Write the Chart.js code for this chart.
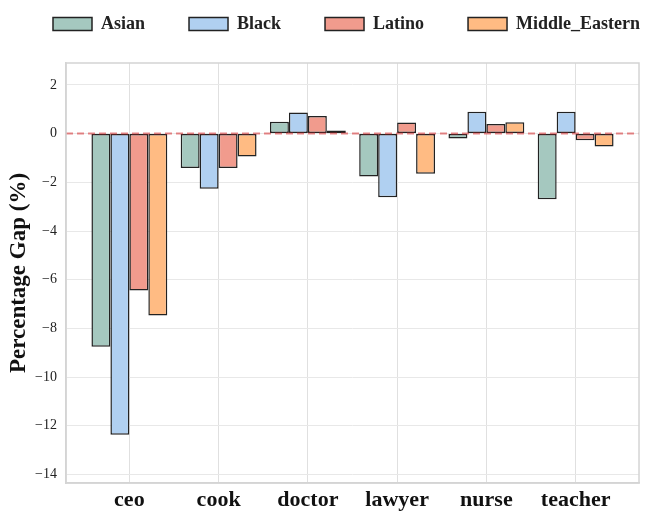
<!DOCTYPE html>
<html>
<head>
<meta charset="utf-8">
<title>Percentage Gap</title>
<script src="https://cdn.jsdelivr.net/npm/chart.js@4.4.1/dist/chart.umd.min.js"></script>
<style>
  html, body { margin: 0; padding: 0; background: #ffffff; }
  #gapChart { display: block; }
</style>
</head>
<body>
<canvas id="gapChart" width="668" height="523"></canvas>
<script>
// values
const categories = ['ceo', 'cook', 'doctor', 'lawyer', 'nurse', 'teacher'];
const groupNames = ['Asian', 'Black', 'Latino', 'Middle_Eastern'];
const asianGap = [-8.75, -1.41, 0.49, -1.76, -0.20, -2.70];
const blackGap = [-12.37, -2.26, 0.87, -2.61, 0.90, 0.90];
const latinoGap = [-6.44, -1.41, 0.72, 0.46, 0.39, -0.27];
const middleEasternGap = [-7.47, -0.94, 0.13, -1.65, 0.47, -0.53];
const yTicks = [-14, -12, -10, -8, -6, -4, -2, 0, 2];

const groupColors = ['#a5c8bf', '#b0d0f1', '#f19b8d', '#ffbb83'];
const serif = "'Liberation Serif', 'Times New Roman', serif";

function toPoints(values) {
    return values.map((v, i) => ({ x: i, y: v }));
}

function formatTick(value) {
    if (value < 0) {
        return '\u2212' + Math.abs(value);
    }
    return String(value);
}

// frame around the plot and the dashed reference line at zero
const framePlugin = {
    id: 'frameAndZero',
    afterInit(chart) {
        // one legend row, and keep it high above the plot like the reference
        const legend = chart.legend;
        const baseFit = legend.fit.bind(legend);
        legend.fit = function () {
            this.maxWidth = 900;
            baseFit();
            this.height += 20;
        };
    },
    afterLayout(chart) {
        // the last legend item runs past the plot's right edge, don't wrap it
        chart.legend.right = chart.width + 200;
    },
    afterDatasetsDraw(chart) {
        const ctx = chart.ctx;
        const area = chart.chartArea;
        const y0 = chart.scales.y.getPixelForValue(0);

        ctx.save();
        ctx.strokeStyle = 'rgba(214, 39, 40, 0.55)';
        ctx.lineWidth = 2;
        ctx.setLineDash([7, 4]);
        ctx.beginPath();
        ctx.moveTo(area.left, y0);
        ctx.lineTo(area.right, y0);
        ctx.stroke();
        ctx.restore();

        ctx.save();
        ctx.strokeStyle = '#d4d4d4';
        ctx.lineWidth = 1.5;
        ctx.strokeRect(area.left, area.top, area.right - area.left, area.bottom - area.top);
        ctx.restore();
    }
};

const seriesValues = [asianGap, blackGap, latinoGap, middleEasternGap];

const datasets = groupNames.map((name, i) => ({
    label: name,
    data: toPoints(seriesValues[i]),
    backgroundColor: groupColors[i],
    borderColor: '#222222',
    borderWidth: 1.5,
    borderSkipped: false,
    categoryPercentage: 0.85,
    barPercentage: 1.0
}));

const ctx = document.getElementById('gapChart').getContext('2d');
new Chart(ctx, {
    type: 'bar',
    data: { datasets: datasets },
    plugins: [framePlugin],
    options: {
        responsive: false,
        animation: false,
        devicePixelRatio: 1,
        layout: {
            padding: { top: -29, left: 9, right: 29, bottom: 0 }
        },
        scales: {
            x: {
                type: 'linear',
                min: -0.71,
                max: 5.71,
                offset: false,
                afterBuildTicks: scale => {
                    scale.ticks = categories.map((c, i) => ({ value: i }));
                },
                afterFit: scale => { scale.height = 40; },
                grid: {
                    color: '#e0e0e0',
                    lineWidth: 1,
                    offset: false,
                    drawTicks: false
                },
                border: { color: '#d4d4d4', width: 1.5 },
                ticks: {
                    padding: 4,
                    color: '#111111',
                    maxRotation: 0,
                    autoSkip: false,
                    font: { family: serif, size: 22, weight: 'bold' },
                    callback: value => categories[value]
                }
            },
            y: {
                min: -14.35,
                max: 2.9,
                afterBuildTicks: scale => {
                    scale.ticks = yTicks.map(v => ({ value: v }));
                },
                afterFit: scale => { scale.width = 57; },
                grid: {
                    color: '#e8e8e8',
                    lineWidth: 1,
                    drawTicks: false
                },
                border: { color: '#d4d4d4', width: 1.5 },
                ticks: {
                    padding: 9,
                    color: '#222222',
                    font: { family: serif, size: 14 },
                    callback: value => formatTick(value)
                },
                title: {
                    display: true,
                    text: 'Percentage Gap (%)',
                    color: '#111111',
                    padding: { top: 0, bottom: 0 },
                    font: { family: serif, size: 23, weight: 'bold', lineHeight: 0.85 }
                }
            }
        },
        plugins: {
            legend: {
                position: 'top',
                align: 'start',
                labels: {
                    boxWidth: 39,
                    boxHeight: 13,
                    padding: 44,
                    color: '#222222',
                    font: { family: serif, size: 18, weight: 'bold' }
                }
            },
            tooltip: { enabled: false }
        }
    }
});
</script>
</body>
</html>
